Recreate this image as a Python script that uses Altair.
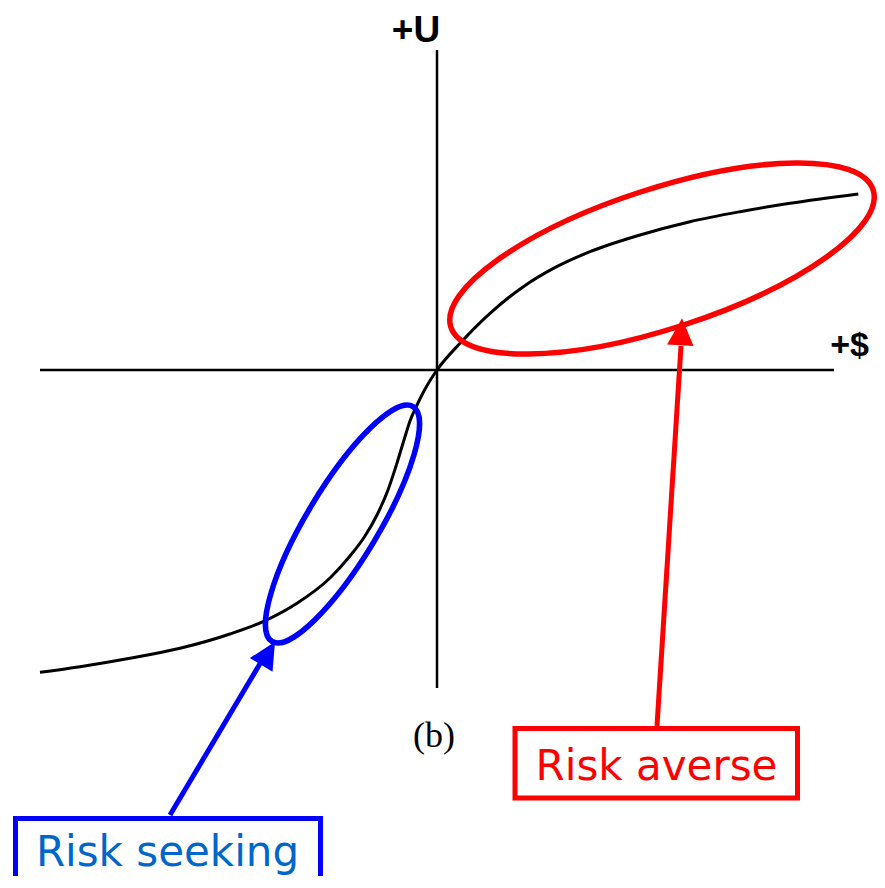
import altair as alt
import pandas as pd

# ---- data (units: $ on x, utility U on y; origin at the axis crossing) ----
curve_x = [-397, -357, -307, -257, -207, -174, -140, -107, -87, -72, -60, -49, -40, -33,
           -27, -20, -13, -6, 0,
           23, 53, 86.3, 119.7, 153, 203, 253, 303, 353, 421.3]
curve_y = [-302.3, -296.7, -288.3, -278.3, -264, -251.7, -233.3, -208, -186, -166, -145, -120,
           -93, -70, -51, -35, -21, -9, 0,
           26.7, 56.7, 83.3, 103.3, 118.3, 135, 148.3, 158.3, 166.7, 176]

axis_x = [-397, 0]
axis_x2 = [397, 0]
axis_y = [0, 320]
axis_y2 = [0, -318]

ellipse_labels = ["Risk averse", "Risk seeking"]
ellipse_cx = [225, -94.5]
ellipse_cy = [111.5, -154]

arrow_x0 = [220, -267]
arrow_y0 = [-356, -445]
arrow_x1 = [244, -176]
arrow_y1 = [24, -292]
tip_x = [245, -162]
tip_y = [51.7, -271.7]
tip_angle = [3.6, 30.8]

box_x = [78, -421.5]
box_x2 = [360.5, -116.5]
box_y = [-358.5, -448.5]
box_y2 = [-428, -525]
text_x = [219.5, -269.5]
text_y = [-410, -496]

line_colors = ["#ff0000", "#0000ff"]
text_colors = ["#ff0000", "#0066cc"]

X = alt.X("x:Q", scale=alt.Scale(domain=[-429, 440], nice=False, zero=False), axis=None)
Y = alt.Y("y:Q", scale=alt.Scale(domain=[-506, 362], nice=False, zero=False), axis=None)

curve = alt.Chart(pd.DataFrame({"x": curve_x, "y": curve_y, "i": range(len(curve_x))})).mark_line(
    color="black", strokeWidth=3, interpolate="monotone"
).encode(x=X, y=Y, order="i:O")

axes = alt.Chart(pd.DataFrame({"x": axis_x, "x2": axis_x2, "y": axis_y, "y2": axis_y2})).mark_rule(
    color="black", strokeWidth=2.5
).encode(x=X, y=Y, x2="x2:Q", y2="y2:Q")


def ell_path(e):
    k = 0.5523
    ke = round(k * e, 4)
    return (f"M -1 0 C -1 {-ke} {-k} {-e} 0 {-e} C {k} {-e} 1 {-ke} 1 0 "
            f"C 1 {ke} {k} {e} 0 {e} C {-k} {e} -1 {ke} -1 0 Z")


ell_df = pd.DataFrame({"x": ellipse_cx, "y": ellipse_cy, "label": ellipse_labels})
ell_red = alt.Chart(ell_df.iloc[[0]]).mark_point(
    shape=ell_path(0.315), size=444 ** 2, angle=342, stroke=line_colors[0], strokeWidth=5.5,
    filled=False, opacity=1
).encode(x=X, y=Y)
ell_blue = alt.Chart(ell_df.iloc[[1]]).mark_point(
    shape=ell_path(0.263), size=274 ** 2, angle=301, stroke=line_colors[1], strokeWidth=5.5,
    filled=False, opacity=1
).encode(x=X, y=Y)

arrow_df = pd.DataFrame({"x": arrow_x0, "y": arrow_y0, "x2": arrow_x1, "y2": arrow_y1,
                         "c": line_colors})
shafts = alt.Chart(arrow_df).mark_rule(strokeWidth=5).encode(
    x=X, y=Y, x2="x2:Q", y2="y2:Q", color=alt.Color("c:N", scale=None))

head_shape = "M 0 0 L -0.49 1 L 0.49 1 Z"
tip_df = pd.DataFrame({"x": tip_x, "y": tip_y, "c": line_colors, "ang": tip_angle})
heads = alt.Chart(tip_df).mark_point(shape=head_shape, size=54 ** 2, filled=True, opacity=1,
                                     strokeWidth=0).encode(
    x=X, y=Y, angle=alt.Angle("ang:Q", scale=None), color=alt.Color("c:N", scale=None))

box_df = pd.DataFrame({"x": box_x, "x2": box_x2, "y": box_y, "y2": box_y2, "c": line_colors})
boxes = alt.Chart(box_df).mark_rect(fill="white", strokeWidth=5).encode(
    x=X, y=Y, x2="x2:Q", y2="y2:Q", stroke=alt.Stroke("c:N", scale=None))

txt_df = pd.DataFrame({"x": text_x, "y": text_y, "label": ellipse_labels, "c": text_colors})
texts = alt.Chart(txt_df).mark_text(font="DejaVu Sans", fontSize=42, align="center",
                                    baseline="alphabetic").encode(
    x=X, y=Y, text="label:N", color=alt.Color("c:N", scale=None))

lab_u = alt.Chart(pd.DataFrame({"x": [-21], "y": [328], "t": ["+U"]})).mark_text(
    font="Liberation Sans", fontWeight="bold", fontSize=37, align="center", baseline="alphabetic",
    color="black").encode(x=X, y=Y, text="t:N")
lab_d = alt.Chart(pd.DataFrame({"x": [412.5], "y": [14], "t": ["+$"]})).mark_text(
    font="Liberation Sans", fontWeight="bold", fontSize=34, align="center", baseline="alphabetic",
    color="black").encode(x=X, y=Y, text="t:N")
lab_b = alt.Chart(pd.DataFrame({"x": [-3], "y": [-377], "t": ["(b)"]})).mark_text(
    font="Liberation Serif", fontSize=36, align="center", baseline="alphabetic",
    color="black").encode(x=X, y=Y, text="t:N")

chart = alt.layer(axes, curve, ell_red, ell_blue, shafts, heads, boxes, texts,
                  lab_u, lab_d, lab_b).properties(
    width=869, height=868, padding=0,
    autosize=alt.AutoSizeParams(type="none", contains="padding")
).configure_view(stroke=None)

chart.save("out.html", embed_options={"renderer": "svg", "actions": False})
